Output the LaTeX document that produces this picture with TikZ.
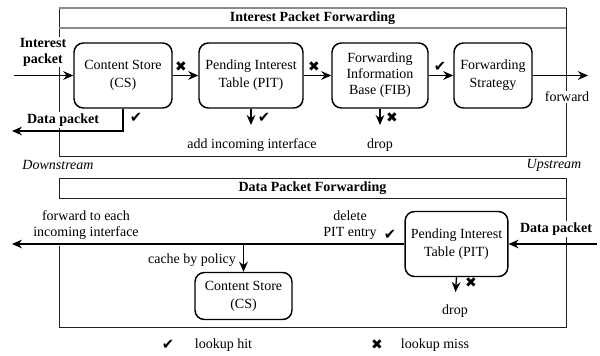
\documentclass[tikz,border=0pt]{standalone}
\usepackage{fontspec}
\setmainfont{Liberation Serif}[Scale=1.05]
\newfontfamily\symbolfont{DejaVu Sans}
\usetikzlibrary{arrows.meta}

% lookup marks
\newcommand{\hitsym}{{\symbolfont\fontsize{11}{11}\selectfont ✔}}
\newcommand{\misssym}{{\symbolfont\fontsize{10.5}{10.5}\selectfont ✖}}

\begin{document}
\begin{tikzpicture}[x=0.75pt, y=-0.75pt,
    block/.style={draw, line width=1.1pt, rounded corners=7pt, align=center,
        minimum height=48.75pt, inner sep=1pt, font=\fontsize{10}{13.5}\selectfont},
    flow/.style={line width=1pt, -{Stealth[length=7.5pt, width=6.5pt]}},
    lbl/.style={fill=white, inner sep=1pt, align=center},
    frame/.style={draw=frameColour, line width=0.7pt},
    rule/.style={draw=ruleColour, line width=0.9pt}]
    % Define colours
    \definecolor{frameColour}{HTML}{202020}
    \definecolor{ruleColour}{HTML}{8A8A8A}

    \useasboundingbox (0,0) rectangle (600,355);

    % Draw the two panels
    \draw[frame] (59,8) rectangle (566,156);
    \draw[rule] (59,8) -- (566,8) (59,28) -- (566,28);
    \draw[frame] (59,178) rectangle (566,198);
    \draw[frame] (59,246) |- (566,327) -- (566,198);

    \node[font=\bfseries] (titleI) at (312.5,18) {Interest Packet Forwarding};
    \node[font=\bfseries] (titleD) at (312.5,188) {Data Packet Forwarding};

    % Interest packet forwarding
    \node[block, minimum width=73.5pt] (csI) at (123,75.5) {Content Store\\(CS)};
    \node[block, minimum width=78pt] (pitI) at (251,75.5) {Pending Interest\\Table (PIT)};
    \node[block, minimum width=72pt, font=\fontsize{10}{12}\selectfont] (fibI) at (380,75.5) {Forwarding\\Information\\Base (FIB)};
    \node[block, minimum width=58.5pt] (fsI) at (493,75.5) {Forwarding\\Strategy};

    \coordinate (interestIn) at (14,75.5);
    \coordinate (forwardOut) at (588,75.5);
    \coordinate (dataOut) at (12,131);
    \coordinate (pitAdd) at (251,125);
    \coordinate (fibDrop) at (380,125);

    \draw[flow] (interestIn) -- (csI);
    \draw[flow] (csI) -- (pitI);
    \draw[flow] (pitI) -- (fibI);
    \draw[flow] (fibI) -- (fsI);
    \draw[flow] (fsI) -- (forwardOut);
    \draw[flow] (csI.south) |- (dataOut);
    \draw[flow] (pitI.south) -- (pitAdd);
    \draw[flow] (fibI.south) -- (fibDrop);

    \node[lbl, font=\bfseries] (interestLbl) at (43,52) {Interest\\packet};
    \node[lbl, font=\bfseries] (dataLblI) at (63,120) {Data packet};
    \node[lbl] (forwardLbl) at (567,97) {forward};
    \node (addLbl) at (252,145) {add incoming interface};
    \node (dropI) at (380,145) {drop};

    \node (csMiss) at (181,67) {\misssym};
    \node (pitMiss) at (314,67) {\misssym};
    \node (fibHit) at (440,67) {\hitsym};
    \node (csHit) at (136,118) {\hitsym};
    \node (pitHit) at (264,118) {\hitsym};
    \node (fibMiss) at (392,118) {\misssym};

    \node[font=\itshape] (downLbl) at (58,165) {Downstream};
    \node[font=\itshape] (upLbl) at (554,165) {Upstream};

    % Data packet forwarding
    \node[block, minimum width=77pt] (pitD) at (456.5,244) {Pending Interest\\Table (PIT)};
    \node[block, minimum width=72.75pt, minimum height=35.25pt] (csD) at (243.5,296) {Content Store\\(CS)};

    \coordinate (dataIn) at (597,244);
    \coordinate (fwdEach) at (12,244);
    \coordinate (pitDrop) at (455.5,292);

    \draw[flow] (dataIn) -- (pitD);
    \draw[flow] (pitD) -- (fwdEach);
    \draw[flow] (csD.north |- pitD.west) -- (csD);
    \draw[flow] (pitD.south) -- (pitDrop);

    \node[lbl, font=\bfseries] (dataLblD) at (556,229) {Data packet};
    \node[lbl] (fwdEachLbl) at (86,225) {forward to each\\incoming interface};
    \node[align=center] (deleteLbl) at (350,225) {delete\\PIT entry};
    \node (cacheLbl) at (192,260) {cache by policy};
    \node (dropD) at (455,311) {drop};

    \node (pitHitD) at (390,235) {\hitsym};
    \node (pitMissD) at (471,283) {\misssym};

    % Legend
    \node (hitKey) at (168,345) {\hitsym};
    \node[right] (hitTxt) at (190,345) {lookup hit};
    \node (missKey) at (377,345) {\misssym};
    \node[right] (missTxt) at (396,345) {lookup miss};
\end{tikzpicture}
\end{document}
